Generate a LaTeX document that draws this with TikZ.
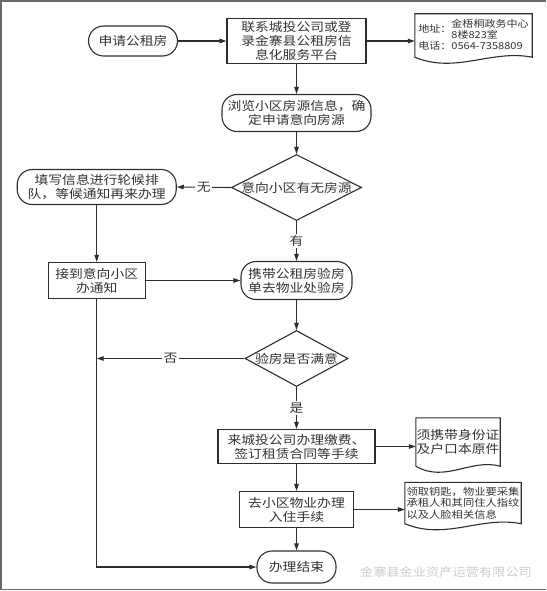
\documentclass[tikz,border=0pt]{standalone}
\usepackage{fontspec}
\setmainfont{Noto Sans CJK SC}[FakeStretch=1.15]
\usetikzlibrary{arrows.meta,shapes.geometric,calc}
\definecolor{linec}{HTML}{2E2E2E}
\definecolor{textc}{HTML}{333333}
\definecolor{framec}{HTML}{6A6A6A}
\newcommand{\mainsz}{\fontsize{12}{14}\selectfont}
\newcommand{\smallsz}{\fontsize{9.8}{11.3}\selectfont}
\newcommand{\addrsz}{\fontsize{9.6}{9.8}\selectfont}
\newcommand{\mydocshape}[1]{%
  \draw[line] (#1.south west) -- (#1.north west) -- (#1.north east) -- (#1.south east)
    .. controls ($(#1.south west)!0.65!(#1.south east)+(0,-8)$) and ($(#1.south west)!0.35!(#1.south east)+(0,17)$) .. (#1.south west) -- cycle;}
\tikzset{
  line/.style={draw=linec, line width=1.1pt},
  arr/.style={line, -{Triangle[length=7pt,width=4.5pt]}},
  base/.style={text=textc, font=\mainsz, align=center, inner sep=0pt},
  term/.style={base, draw=linec, line width=1.1pt, rounded corners=15pt},
  proc/.style={base, draw=linec, line width=1.1pt},
  dia/.style={diamond, draw=linec, line width=1.1pt, inner sep=0pt},
  docbox/.style={base, inner sep=0pt},
  lbl/.style={text=textc, font=\mainsz, fill=white, inner sep=1.5pt},
}
\begin{document}
\begin{tikzpicture}[x=1pt, y=-1pt]
\useasboundingbox (0,0) rectangle (546,591);
\draw[framec, line width=1.5pt] (546,1) -- (1,1) -- (1,589.5) -- (546,589.5);

\node[term, minimum width=89pt, minimum height=30pt] (apply) at (133,41) {申请公租房};
\node[proc, minimum width=139pt, minimum height=45pt] (contact) at (296.5,41) {联系城投公司或登\\录金寨县公租房信\\息化服务平台};
\node[docbox, minimum width=117pt, minimum height=43pt] (addr) at (473.5,35.5) {\addrsz\begin{tabular}{@{}l@{}l@{}}地址：&\begin{tabular}[c]{@{}l@{}}金梧桐政务中心\\8楼823室\end{tabular}\\[5pt]电话：&0564-7358809\end{tabular}};
\mydocshape{addr}
\node[term, minimum width=149pt, minimum height=37pt] (browse) at (296.5,113) {浏览小区房源信息，确\\定申请意向房源};
\node[dia, minimum width=130pt, minimum height=66pt] (d1) at (296.5,187.5) {};
\node[base] (d1t) at (d1.center) {意向小区有无房源};
\node[term, minimum width=159pt, minimum height=35pt] (wait) at (96.7,187) {填写信息进行轮候排\\队，等候通知再来办理};
\node[proc, minimum width=97pt, minimum height=36pt] (notice) at (96.7,280.5) {接到意向小区\\办通知};
\node[term, minimum width=111pt, minimum height=38pt] (carry) at (296.5,280.5) {携带公租房验房\\单去物业处验房};
\node[dia, minimum width=103pt, minimum height=56pt] (d2) at (296.5,358.5) {};
\node[base] (d2t) at (d2.center) {验房是否满意};
\node[proc, minimum width=157pt, minimum height=34pt] (pay) at (296.5,446.5) {来城投公司办理缴费、\\签订租赁合同等手续};
\node[docbox, minimum width=84pt, minimum height=48pt] (idcard) at (458,442) {须携带身份证\\及户口本原件};
\mydocshape{idcard}
\node[proc, minimum width=114pt, minimum height=36pt] (checkin) at (296.5,509.5) {去小区物业办理\\入住手续};
\node[docbox, minimum width=116pt, minimum height=41pt, align=left, font=\smallsz] (keys) at (463,503) {领取钥匙，物业要采集\\承租人和其同住人指纹\\以及人脸相关信息};
\mydocshape{keys}
\node[term, minimum width=79pt, minimum height=32pt] (done) at (296.5,567) {办理结束};
\node[text=gray!40, font=\fontsize{11.5}{13}\selectfont] (wm) at (446,572) {金寨县金业资产运营有限公司};

\coordinate (nol) at (notice.south |- d2.west);
\coordinate (bot) at (notice.south |- done.west);

\draw[arr] (apply) -- (contact);
\draw[arr] (contact.east) -- (contact.east -| addr.west);
\draw[arr] (contact) -- (browse);
\draw[arr] (browse) -- (d1.north);
\draw[arr] (d1.west) -- node[lbl] (lno) {无} (wait.east);
\draw[arr] (d1.south) -- node[lbl] (lyes) {有} (carry.north);
\draw[arr] (wait) -- (notice);
\draw[arr] (notice) -- (carry);
\draw[arr] (carry) -- (d2.north);
\draw[arr] (d2.west) -- node[lbl] (lfou) {否} (nol);
\draw[arr] (d2.south) -- node[lbl] (lshi) {是} (pay.north);
\draw[arr] (pay.east) -- (pay.east -| idcard.west);
\draw[arr] (pay) -- (checkin);
\draw[arr] (checkin.east) -- (checkin.east -| keys.west);
\draw[arr] (checkin) -- (done);
\draw[arr] (notice.south) -- (bot) -- (done.west);
\end{tikzpicture}
\end{document}
